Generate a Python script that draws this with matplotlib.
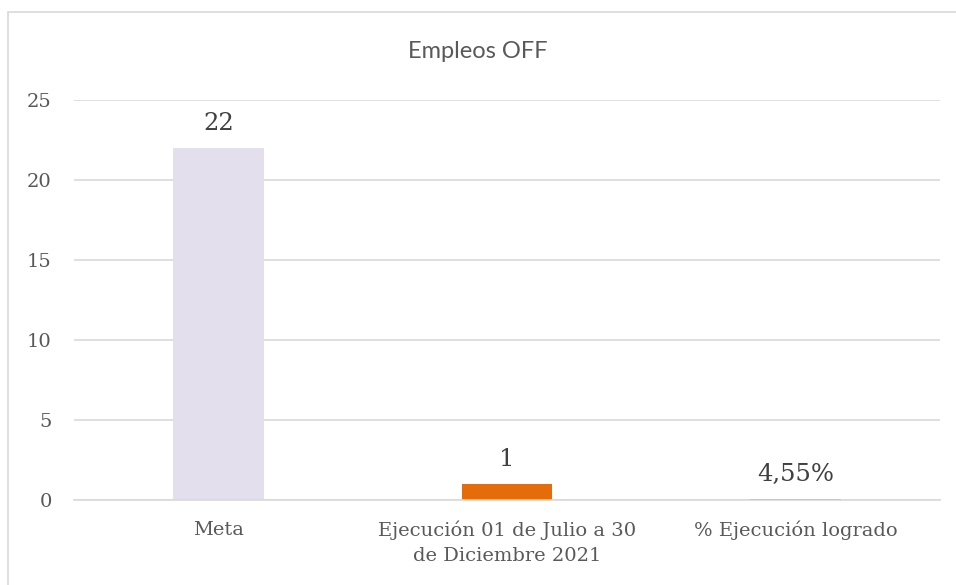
import matplotlib.pyplot as plt
from matplotlib.patches import Rectangle

# Datos del grafico
categorias = ['Meta', 'Ejecución 01 de Julio a 30\nde Diciembre 2021', '% Ejecución logrado']
valores = [22, 1, 0.0455]
etiquetas = ['22', '1', '4,55%']
colores = ['#E4DFEC', '#E46C0A', '#4472C4']
y_ticks = [0, 5, 10, 15, 20, 25]

gris_texto = '#595959'
gris_linea = '#D9D9D9'
serif = ['DejaVu Serif']

fig = plt.figure(figsize=(9.56, 5.85), dpi=100)
ax = fig.add_axes([74 / 956, 85 / 585, (940 - 74) / 956, 400 / 585])

# borde exterior del grafico
fig.patches.append(Rectangle((8 / 956, -0.1), 1.1, 1 - 12 / 585 + 0.1,
                             transform=fig.transFigure, fill=False,
                             edgecolor=gris_linea, linewidth=1.2))

x = list(range(len(categorias)))
barras = ax.bar(x, valores, width=0.315, color=colores, zorder=2)

for b, txt in zip(barras, etiquetas):
    ax.annotate(txt, (b.get_x() + b.get_width() / 2, b.get_height()),
                xytext=(0, 13), textcoords='offset points', ha='center', va='baseline',
                fontsize=17.5, color='#404040', family=serif)

ax.set_xlim(-0.5, 2.5)
ax.set_ylim(0, 25)
ax.set_yticks(y_ticks)
ax.set_yticklabels([str(t) for t in y_ticks], family=serif, fontsize=14, color=gris_texto)
ax.set_xticks(x)
ax.set_xticklabels(categorias, family=serif, fontsize=14, color=gris_texto)
for lbl in ax.get_xticklabels():
    lbl.set_linespacing(1.45)
ax.tick_params(axis='both', length=0)
ax.tick_params(axis='y', pad=16)
ax.tick_params(axis='x', pad=15)

ax.yaxis.grid(True, color=gris_linea, linewidth=1.2, zorder=0)
for lado in ['top', 'right', 'left']:
    ax.spines[lado].set_visible(False)
ax.spines['bottom'].set_color(gris_linea)
ax.spines['bottom'].set_linewidth(1.2)

fig.text(0.5, 1 - 58 / 585, 'Empleos OFF', ha='center', va='baseline',
         fontsize=17, color=gris_texto, family=['Lato', 'DejaVu Sans'])

fig.savefig('out.png', dpi=100)
